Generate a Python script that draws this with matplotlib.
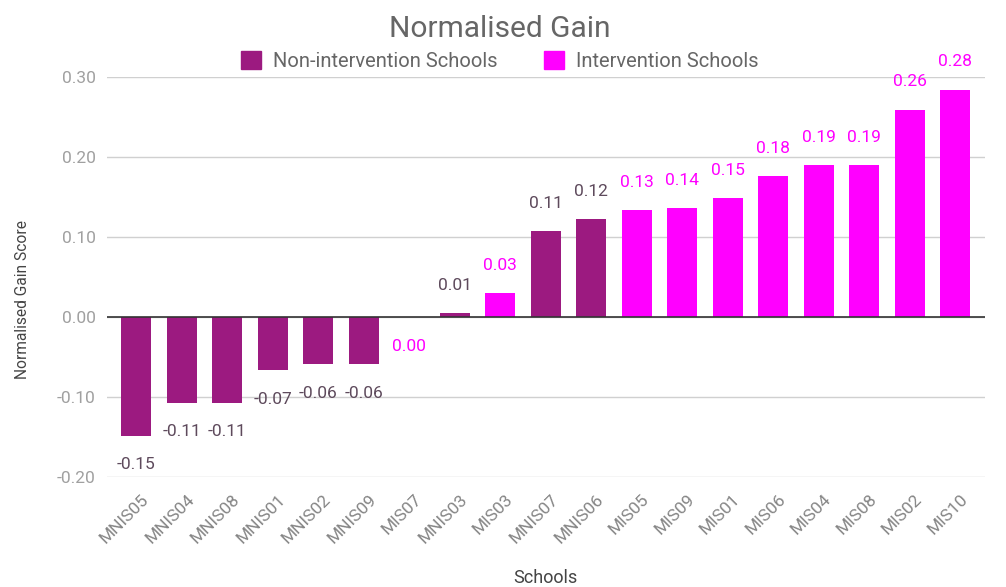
import matplotlib
matplotlib.use("Agg")
import matplotlib.pyplot as plt
import matplotlib.transforms as mtransforms
import numpy as np
from matplotlib.patches import Patch

# data
escolas = ["MNIS05", "MNIS04", "MNIS08", "MNIS01", "MNIS02", "MNIS09", "MIS07",
           "MNIS03", "MIS03", "MNIS07", "MNIS06", "MIS05", "MIS09", "MIS01",
           "MIS06", "MIS04", "MIS08", "MIS02", "MIS10"]
ganho = [-0.148, -0.107, -0.107, -0.066, -0.059, -0.059, 0.0,
         0.005, 0.030, 0.107, 0.122, 0.134, 0.136, 0.149,
         0.176, 0.190, 0.190, 0.259, 0.284]
intervencao = [False, False, False, False, False, False, True,
               False, True, False, False, True, True, True,
               True, True, True, True, True]
yticks = [-0.20, -0.10, 0.00, 0.10, 0.20, 0.30]

COR_NI = "#9c1a80"
COR_I = "#ff00ff"
COR_TXT_NI = "#5e4a5c"

plt.rcParams.update({"font.family": ["Roboto", "DejaVu Sans"]})
fig = plt.figure(figsize=(10.06, 5.87), dpi=100)
ax = fig.add_axes([0.106, 0.187, 0.873, 0.682])

x = np.arange(len(escolas))
cores = [COR_I if i else COR_NI for i in intervencao]
ax.bar(x, ganho, width=0.66, color=cores, zorder=3)

for xi, v, i in zip(x, ganho, intervencao):
    off = 20 if v > 0 else -21
    ax.annotate(f"{v:.2f}", (xi, v), xytext=(0, off), textcoords="offset points",
                ha="center", va="center", fontsize=12.5,
                color=COR_I if i else COR_TXT_NI, clip_on=False)

ax.set_xlim(-0.65, len(escolas) - 0.35)
ax.set_ylim(-0.20, 0.30)
ax.tick_params(axis="y", length=0, pad=8)
ax.tick_params(axis="x", length=0, pad=14)
ax.set_yticks(yticks)
ax.set_yticklabels([f"{t:.2f}" for t in yticks], color="#a0a0a0", fontsize=12.5)
ax.set_xticks(x)
ax.set_xticklabels(escolas, rotation=45, ha="right", va="center",
                   rotation_mode="anchor", color="#858585", fontsize=12.5)
# google-sheets style: rotated labels end a bit right of the bar centre
desloc = mtransforms.ScaledTranslation(10 / 100, 0, fig.dpi_scale_trans)
for lbl in ax.get_xticklabels():
    lbl.set_transform(lbl.get_transform() + desloc)
ax.grid(axis="y", color="#d0d0d0", linewidth=1, zorder=0)
ax.axhline(0, color="#333333", linewidth=1.2, zorder=4)
for s in ax.spines.values():
    s.set_visible(False)

ax.set_xlabel("Schools", fontsize=13, color="#444444", va="center")
ax.xaxis.set_label_coords(0.499, -0.2525)
ax.set_ylabel("Normalised Gain Score", fontsize=11.2, color="#444444", va="center")
ax.yaxis.set_label_coords(-0.096, 0.445)

fig.text(0.497, 0.950, "Normalised Gain", ha="center", va="center",
         fontsize=21.5, color="#666666")
fig.legend(handles=[Patch(color=COR_NI, label="Non-intervention Schools"),
                    Patch(color=COR_I, label="Intervention Schools")],
           loc="center", bbox_to_anchor=(0.497, 0.896), ncol=2, frameon=False,
           fontsize=14.5, labelcolor="#666666", handlelength=1.0, handleheight=1.0,
           columnspacing=2.3, handletextpad=0.6)

fig.savefig("out.png", dpi=100, facecolor="white")
